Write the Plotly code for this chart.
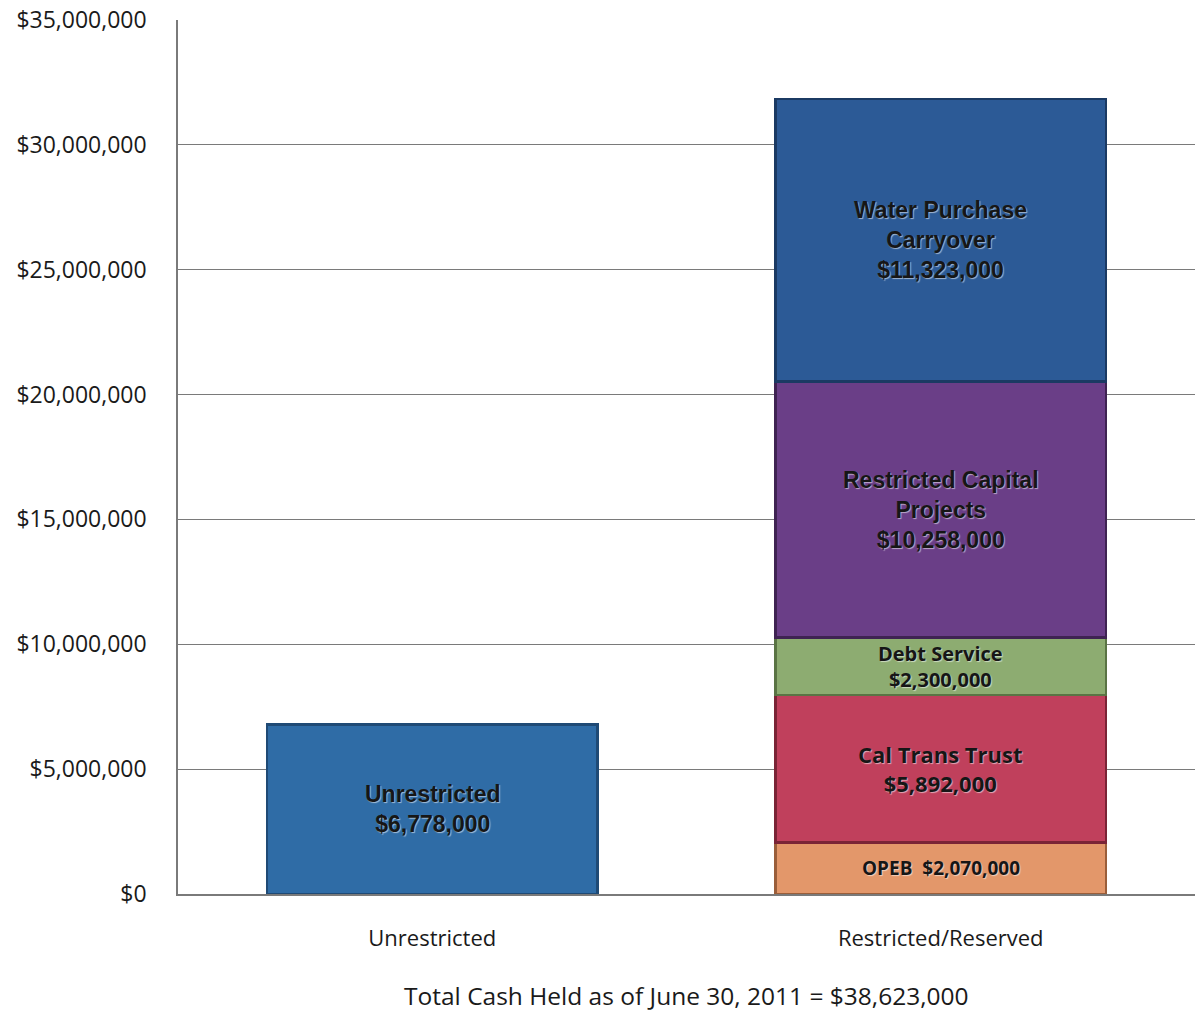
import plotly.graph_objects as go

categories = ["Unrestricted", "Restricted/Reserved"]

segment_names = ["Unrestricted", "OPEB", "Cal Trans Trust", "Debt Service",
                 "Restricted Capital Projects", "Water Purchase Carryover"]
segment_category = ["Unrestricted", "Restricted/Reserved", "Restricted/Reserved",
                    "Restricted/Reserved", "Restricted/Reserved", "Restricted/Reserved"]
segment_values = [6778000, 2070000, 5892000, 2300000, 10258000, 11323000]
segment_labels = [
    "Unrestricted<br>$6,778,000",
    "OPEB\u00a0\u00a0$2,070,000",
    "Cal Trans Trust<br>$5,892,000",
    "Debt Service<br>$2,300,000",
    "Restricted Capital<br>Projects<br>$10,258,000",
    "Water Purchase<br>Carryover<br>$11,323,000",
]
segment_colors = ["#2F6CA6", "#E3976A", "#C0405C", "#8DAC71", "#6A3E87", "#2C5A96"]
segment_edges = ["#1F4A75", "#9A5E3A", "#7A2436", "#5A7444", "#3F2352", "#1B3A63"]
segment_fonts = ["Liberation Sans", "Open Sans", "Open Sans", "Open Sans",
                 "Liberation Sans", "Liberation Sans"]
segment_font_sizes = [23, 19, 22, 20, 23, 23]

y_ticks = [0, 5000000, 10000000, 15000000, 20000000, 25000000, 30000000, 35000000]
y_tick_labels = ["$0", "$5,000,000", "$10,000,000", "$15,000,000", "$20,000,000",
                 "$25,000,000", "$30,000,000", "$35,000,000"]
total_caption = "Total Cash Held as of June 30, 2011 = $38,623,000"

fig = go.Figure()
for name, cat, val, col, edge in zip(segment_names, segment_category, segment_values,
                                      segment_colors, segment_edges):
    fig.add_trace(go.Bar(
        x=[cat], y=[val], name=name,
        marker=dict(color=col, line=dict(color=edge, width=2.5)),
        width=0.65, hoverinfo="skip",
    ))

# labels centred on each stacked segment
running = {c: 0 for c in categories}
for cat, val, lab, fam, fs in zip(segment_category, segment_values, segment_labels,
                                  segment_fonts, segment_font_sizes):
    mid = running[cat] + val / 2
    running[cat] += val
    fig.add_annotation(
        x=cat, y=mid, text=lab, showarrow=False,
        xanchor="center", yanchor="middle",
        font=dict(family=fam, size=fs, color="#161616", weight="bold",
                  shadow="1px 1px 1px rgba(255,255,255,0.55)"),
    )

fig.update_layout(
    barmode="stack",
    width=1196, height=1015,
    margin=dict(l=178, r=1, t=20, b=121),
    paper_bgcolor="white", plot_bgcolor="white",
    showlegend=False,
    font=dict(family="Open Sans", color="#222222"),
)
fig.update_yaxes(
    range=[0, 35000000], tickvals=y_ticks, ticktext=y_tick_labels,
    showgrid=True, gridcolor="#7a7a7a", gridwidth=1,
    showline=True, linecolor="#7a7a7a", linewidth=1.5,
    tickfont=dict(family="Open Sans", size=23, color="#1a1a1a"),
    ticklabelstandoff=25, zeroline=False,
)
fig.update_xaxes(
    categoryorder="array", categoryarray=categories,
    tickfont=dict(family="Open Sans", size=22, color="#1a1a1a"),
    showline=True, linecolor="#7a7a7a", linewidth=1.5,
    ticklabelstandoff=24,
)
fig.add_annotation(
    text=total_caption, xref="paper", yref="paper", x=0.5, y=-0.1156,
    xanchor="center", yanchor="middle", showarrow=False,
    font=dict(family="Open Sans", size=24.5, color="#1a1a1a"),
)

fig.write_html("out.html")
